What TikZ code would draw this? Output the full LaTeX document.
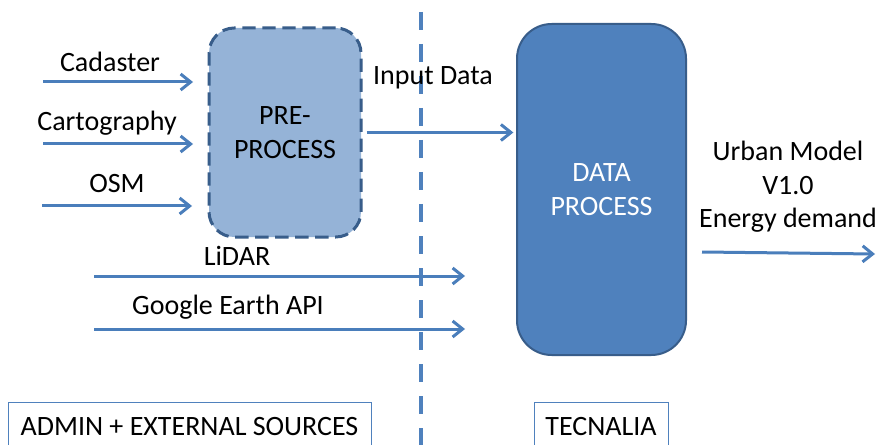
\documentclass[tikz,border=0pt]{standalone}
\usepackage{fontspec}
\setmainfont{Carlito}
\usetikzlibrary{arrows.meta,positioning}
\definecolor{ocean}{RGB}{79,129,189}
\definecolor{navy}{RGB}{56,93,138}
\definecolor{sky}{RGB}{149,179,215}
\definecolor{wire}{RGB}{74,126,187}
\definecolor{ink}{RGB}{0,0,0}
\tikzset{
  >={Straight Barb[length=7.5pt,width=12pt]},
  big/.style={font=\fontsize{21}{25}\selectfont},
  tag/.style={big,text=ink,align=center,inner sep=0pt},
  pre box/.style={draw=navy,fill=sky,line width=2.25pt,dash pattern=on 10pt off 5pt,
    rounded corners=19pt,minimum width=114pt,minimum height=156.75pt,big,align=center},
  solid box/.style={draw=navy,fill=ocean,line width=1.5pt,rounded corners=26pt,
    minimum width=126.75pt,minimum height=248.25pt,big,text=white,align=center},
  area/.style={draw=ocean,line width=0.75pt,big,minimum height=37.5pt,inner sep=0pt},
  flow/.style={->,line width=2.25pt,draw=wire},
  split/.style={ocean,line width=3.5pt,dash pattern=on 13.5pt off 10.5pt},
}
\begin{document}
\begin{tikzpicture}[x=0.75pt,y=-0.75pt]
  \clip (0,0) rectangle (880,445);
  \fill[white] (0,0) rectangle (880,445);
  % boundary between the two sides
  \coordinate (top) at (421,12);
  \coordinate (bot) at (421,445);
  \draw[split] (top) -- (bot);

  % boxes
  \node[pre box] (pre) at (285,132.5) {PRE-\\PROCESS};
  \node[solid box] (data) at (601.5,189.5) {DATA\\PROCESS};

  % sources
  \node[tag] (cad) at (110,62) {Cadaster};
  \node[tag] (car) at (107,123) {Cartography};
  \node[tag] (osm) at (117,184) {OSM};
  \node[tag] (lid) at (237,256) {LiDAR};
  \node[tag] (gea) at (228,307) {Google Earth API};
  \node[tag] (inp) at (433,78) {Input Data};
  \node[tag] (out) at (788,187) {Urban Model\\V1.0\\Energy demand};

  \coordinate (cad0) at (43,82);   \coordinate (cad1) at (193,82);
  \coordinate (car0) at (43,144);  \coordinate (car1) at (193,144);
  \coordinate (osm0) at (42,206);  \coordinate (osm1) at (192,206);
  \coordinate (lid0) at (94,276);  \coordinate (lid1) at (465,276);
  \coordinate (gea0) at (94,329);  \coordinate (gea1) at (465,329);
  \coordinate (out0) at (702,252); \coordinate (out1) at (875,254);

  \draw[flow] (cad0) -- (cad1);
  \draw[flow] (car0) -- (car1);
  \draw[flow] (osm0) -- (osm1);
  \draw[flow] (lid0) -- (lid1);
  \draw[flow] (gea0) -- (gea1);
  \draw[flow,shorten <=3pt,shorten >=2pt] (pre.east) -- (pre.east -| data.west);
  \draw[flow] (out0) -- (out1);

  % who does what
  \node[area,minimum width=272.25pt] (admin) at (189.5,427) {ADMIN + EXTERNAL SOURCES};
  \node[area,minimum width=100.5pt] (tec) at (601,427) {TECNALIA};
\end{tikzpicture}
\end{document}
